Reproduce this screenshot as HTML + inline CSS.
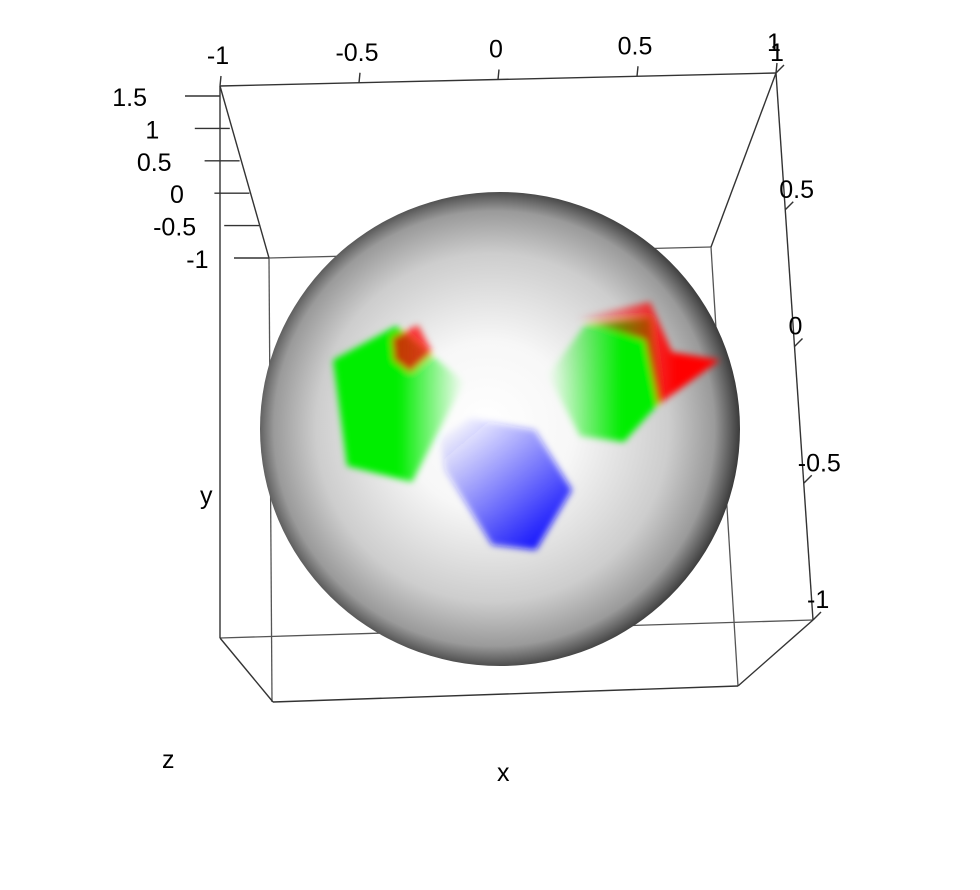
<!DOCTYPE html>
<html><head><meta charset="utf-8"><style>
html,body{margin:0;padding:0;background:#fff;width:980px;height:890px;overflow:hidden}
text{font-family:"Liberation Sans",sans-serif;font-size:25px;fill:#000}
</style></head><body>
<svg id="plot" width="980" height="890" viewBox="0 0 980 890" xmlns="http://www.w3.org/2000/svg">
<defs>
<radialGradient id="sph" cx="0.49" cy="0.5" r="0.51" fx="0.47" fy="0.49">
<stop offset="0" stop-color="#ffffff"/><stop offset="0.35" stop-color="#f7f7f7"/>
<stop offset="0.72" stop-color="#cdcdcd"/><stop offset="0.9" stop-color="#9a9a9a"/><stop offset="1" stop-color="#3a3a3a"/>
</radialGradient>
<linearGradient id="gl" x1="0" y1="0" x2="1" y2="0"><stop offset="0.5" stop-color="#00ee00"/><stop offset="1" stop-color="#00ee00" stop-opacity="0"/></linearGradient>
<linearGradient id="gr" x1="1" y1="0" x2="0" y2="0"><stop offset="0.35" stop-color="#00ee00"/><stop offset="1" stop-color="#00ee00" stop-opacity="0"/></linearGradient>
<linearGradient id="rr" x1="1" y1="0" x2="0" y2="0"><stop offset="0.3" stop-color="#ff0000"/><stop offset="1" stop-color="#ff0000" stop-opacity="0"/></linearGradient>
<linearGradient id="bb" x1="0.85" y1="0.95" x2="0.1" y2="0.05"><stop offset="0" stop-color="#1010ff"/><stop offset="1" stop-color="#2020ff" stop-opacity="0.02"/></linearGradient>
<filter id="bl" x="-20%" y="-20%" width="140%" height="140%"><feGaussianBlur stdDeviation="3.5"/></filter>
</defs>
<g stroke="#555" stroke-width="1.3" fill="none">
<line x1="269" y1="258" x2="711" y2="247"/>
<line x1="269" y1="258" x2="272" y2="702"/>
<line x1="711" y1="247" x2="738" y2="686"/>
<line x1="220" y1="638" x2="813" y2="620"/>
</g>
<ellipse cx="500" cy="429" rx="240" ry="237" fill="url(#sph)"/>
<g filter="url(#bl)">
<polygon fill="url(#gl)" points="333,360 396,326 464,382 412,482 347,466"/>
<polygon fill="#ff0000" opacity="0.75" points="392,338 418,325 432,352 410,372 394,360"/>
<polygon fill="url(#gr)" points="548,375 585,325 650,318 662,400 624,442 580,436"/>
<polygon fill="url(#rr)" points="575,318 650,302 672,352 720,360 658,405 645,340"/>
<polygon fill="url(#bb)" points="440,438 470,418 535,430 572,490 536,550 492,545 445,470"/>
</g>
<g stroke="#333" stroke-width="1.4" fill="none">
<line x1="220" y1="86" x2="776" y2="73"/>
<line x1="220" y1="86" x2="220" y2="638"/>
<line x1="220" y1="86" x2="269" y2="258"/>
<line x1="776" y1="73" x2="711" y2="247"/>
<line x1="776" y1="73" x2="813" y2="620"/>
<line x1="220" y1="638" x2="273" y2="702"/>
<line x1="273" y1="702" x2="738" y2="686"/>
<line x1="738" y1="686" x2="813" y2="620"/>
</g>
<g id="axes"></g>
<text x="200" y="504">y</text>
<text x="162" y="768">z</text>
<text x="497" y="781">x</text>
</svg>
<script>
const xTicks=[-1,-0.5,0,0.5,1];
const xTickLabels=["-1","-0.5","0","0.5","1"];
const zTicks=[1.5,1,0.5,0,-0.5,-1];
const zTickLabels=["1.5","1","0.5","0","-0.5","-1"];
const yTicks=[1,0.5,0,-0.5,-1];
const yTickLabels=["1","0.5","0","-0.5","-1"];
const NS="http://www.w3.org/2000/svg";
const g=document.getElementById('axes');
function ln(x1,y1,x2,y2){const l=document.createElementNS(NS,'line');l.setAttribute('x1',x1);l.setAttribute('y1',y1);l.setAttribute('x2',x2);l.setAttribute('y2',y2);l.setAttribute('stroke','#333');l.setAttribute('stroke-width','1.4');return l;}
function tx(x,y,s,a){const t=document.createElementNS(NS,'text');t.setAttribute('x',x);t.setAttribute('y',y);t.setAttribute('text-anchor',a||'middle');t.textContent=s;return t;}
function xPos(v){const f=(v+1)/2;return [220+f*556,86-f*13];}
xTicks.forEach((v,i)=>{const [x,y]=xPos(v);
const l=ln(x,y,x+1,y-10);g.appendChild(l);
const t=tx(x-2,y-22,xTickLabels[i]);g.appendChild(t);});
function zPos(v){const f=(1.5-v)/2.5;return [220+f*49,96+f*162];}
zTicks.forEach((v,i)=>{const [x,y]=zPos(v);
const l=ln(x-35,y,x,y);g.appendChild(l);
const t=tx(x-73+i*2.5,y+10,zTickLabels[i],'end');g.appendChild(t);});
function yPos(v){const f=(1-v)/2;return [776+f*37,73+f*547];}
yTicks.forEach((v,i)=>{const [x,y]=yPos(v);
const l=ln(x,y,x+8,y-8);g.appendChild(l);
const t=tx(x-6,y-12,yTickLabels[i],'start');g.appendChild(t);});
</script>
</body></html>
